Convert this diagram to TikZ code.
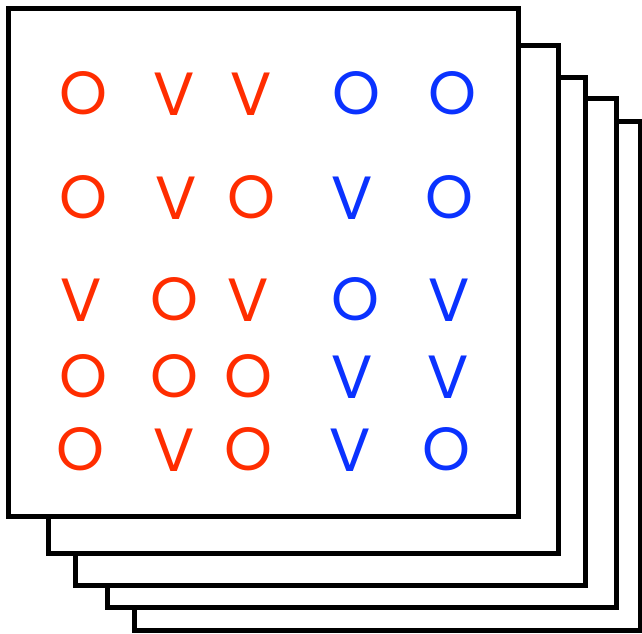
\documentclass[tikz,border=0pt]{standalone}
\usepackage{fontspec}
\newfontfamily\geofont{Poppins}
\definecolor{gridred}{RGB}{255,45,0}
\definecolor{gridblue}{RGB}{10,50,255}

\begin{document}
\begin{tikzpicture}[x=1pt,y=-1pt,
    sheet/.style={draw=black,line width=5pt,fill=white},
    letter/.style={font=\geofont\fontsize{61}{61}\selectfont,inner sep=0pt,anchor=base}]
    \useasboundingbox (0,0) rectangle (642,633);

    % Stacked sheets, back to front
    \foreach \xa/\ya/\xb/\yb in {134/121/640/630, 107/98/616/607, 75/77/585/585,
                                  48/45/558/553, 8/8/518/516}
        \draw[sheet] (\xa,\ya) rectangle (\xb,\yb);

    % Letters on the front sheet
    \foreach \n/\x/\y/\c/\t in {
        a1/83/114/gridred/O, a2/174/115/gridred/V, a3/251/115/gridred/V, a4/356/114/gridblue/O, a5/452/114/gridblue/O,
        b1/83/218/gridred/O, b2/176/219/gridred/V, b3/251/218/gridred/O, b4/352/219/gridblue/V, b5/449/218/gridblue/O,
        c1/81/321/gridred/V, c2/174/320/gridred/O, c3/248/321/gridred/V, c4/355/320/gridblue/O, c5/449/321/gridblue/V,
        d1/83/397/gridred/O, d2/174/397/gridred/O, d3/248/397/gridred/O, d4/352/398/gridblue/V, d5/448/398/gridblue/V,
        e1/80/470/gridred/O, e2/174/471/gridred/V, e3/248/470/gridred/O, e4/350/471/gridblue/V, e5/446/470/gridblue/O}
        \node[letter,text=\c] (\n) at (\x,\y) {\t};
\end{tikzpicture}
\end{document}
